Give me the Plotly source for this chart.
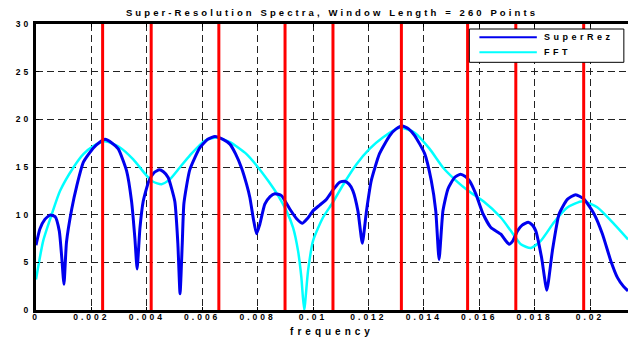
import plotly.graph_objects as go

title_text = "Super-Resolution Spectra, Window Length = 260 Points"
x_label = "frequency"
legend_names = ["SuperRez", "FFT"]

x_tick_vals = [0, 0.002, 0.004, 0.006, 0.008, 0.01, 0.012, 0.014, 0.016, 0.018, 0.02]
x_tick_text = ["0", "0.002", "0.004", "0.006", "0.008", "0.01", "0.012", "0.014", "0.016", "0.018", "0.02"]
y_tick_vals = [0, 5, 10, 15, 20, 25, 30]

# frequencies in units of 1e-3
superrez_f = [0.0, 0.14, 0.32, 0.5, 0.69, 0.84, 0.93, 1.01, 1.1, 1.29, 1.47, 1.71, 2.07, 2.3, 2.49,
              2.75, 2.97, 3.27, 3.45, 3.57, 3.65, 3.75, 3.87, 4.07, 4.26, 4.45, 4.6, 4.77, 5.01,
              5.12, 5.2, 5.28, 5.34, 5.55, 5.91, 6.2, 6.46, 6.75, 7.0, 7.2, 7.42, 7.6, 7.72, 7.85,
              7.96, 8.08, 8.26, 8.45, 8.62, 8.86, 9.16, 9.4, 9.62, 9.8, 10.0, 10.24, 10.48, 10.75,
              10.96, 11.14, 11.3, 11.44, 11.62, 11.78, 11.93, 12.1, 12.4, 12.77, 13.0, 13.22, 13.45,
              13.67, 14.03, 14.27, 14.43, 14.55, 14.69, 14.87, 15.11, 15.32, 15.5, 15.65, 15.88,
              16.12, 16.42, 16.78, 16.95, 17.08, 17.2, 17.38, 17.55, 17.77, 17.92, 18.04, 18.25,
              18.44, 18.64, 18.88, 19.18, 19.48, 19.79, 20.15, 20.45, 20.75, 20.99, 21.2, 21.37]
superrez_v = [6.8, 8.5, 9.5, 9.95, 9.8, 8.3, 5.5, 2.7, 7.1, 10.6, 13.0, 15.5, 17.0, 17.6, 17.9,
              17.5, 16.9, 14.6, 11.4, 7.5, 4.3, 8.5, 11.4, 13.5, 14.4, 14.7, 14.5, 13.9, 11.4,
              7.0, 1.7, 7.0, 11.2, 14.7, 17.0, 17.9, 18.2, 17.9, 17.4, 16.4, 14.9, 13.2, 11.8, 9.5,
              8.0, 9.0, 11.1, 11.9, 12.2, 12.0, 10.6, 9.6, 9.1, 9.6, 10.4, 11.0, 11.6, 12.7,
              13.4, 13.5, 13.2, 12.5, 10.4, 7.0, 10.4, 13.55, 16.4, 18.3, 19.0, 19.3, 19.0,
              18.3, 16.4, 13.55, 10.4, 5.3, 10.4, 12.7, 13.9, 14.25, 14.0, 13.55, 12.15,
              10.2, 8.65, 7.95, 7.3, 6.9, 7.2, 8.3, 8.9, 9.2, 8.9, 8.3, 5.5,
              2.07, 6.2, 10.05, 11.6, 12.1, 11.6, 10.05, 7.95, 5.15, 3.4, 2.5, 2.0]

fft_f = [0.0, 0.26, 0.57, 0.87, 1.35, 1.71, 2.07, 2.49, 3.03, 3.51, 3.99, 4.23, 4.53, 4.83, 5.19,
         5.55, 6.09, 6.52, 7.0, 7.6, 8.02, 8.38, 8.74, 9.04, 9.28, 9.46, 9.58, 9.68, 9.82, 10.0,
         10.36, 10.72, 11.14, 11.57, 12.04, 12.52, 13.13, 13.67, 14.21, 14.69, 15.17, 15.65,
         16.15, 16.78, 17.14, 17.5, 17.86, 18.22, 18.7, 19.18, 19.73, 20.27, 20.87, 21.37]
fft_v = [3.2, 7.25, 10.05, 12.5, 14.95, 16.35, 17.2, 17.7, 17.05, 15.8, 14.1, 13.45, 13.2, 13.7, 14.95,
         16.2, 17.75, 18.1, 17.6, 16.35, 14.95, 13.55, 12.0, 10.4, 8.65, 6.2, 3.4, 0.0, 4.1, 7.25,
         9.7, 11.3, 13.4, 15.3, 16.9, 18.1, 19.15, 18.6, 16.9, 14.95, 13.55, 12.4,
         11.4, 9.7, 8.3, 6.9, 6.5, 7.25, 9.2, 10.75, 11.4, 10.75, 9.0, 7.4]

true_freqs = [2.405, 4.158, 6.60, 8.99, 10.72, 13.19, 15.58, 17.32, 19.77]

x_max = 21.37
y_max = 30

scale = 1e-3
fig = go.Figure()
fig.add_trace(go.Scatter(x=[v * scale for v in fft_f], y=fft_v, mode="lines",
                         line=dict(color="#00ffff", width=2.5, shape="spline", smoothing=0.6),
                         name=legend_names[1], showlegend=False))
fig.add_trace(go.Scatter(x=[v * scale for v in superrez_f], y=superrez_v, mode="lines",
                         line=dict(color="#0000ee", width=3, shape="spline", smoothing=0.5),
                         name=legend_names[0], showlegend=False))
rx, ry = [], []
for f in true_freqs:
    rx += [f * scale, f * scale, None]
    ry += [0, y_max, None]
fig.add_trace(go.Scatter(x=rx, y=ry, mode="lines", line=dict(color="#ff0000", width=3),
                         showlegend=False, hoverinfo="skip"))

font_main = "Liberation Sans, Arial, sans-serif"

# manual legend (opaque box)
lx0, lx1, ly0, ly1 = 0.732, 0.993, 0.866, 0.9825
shapes = [dict(type="rect", xref="paper", yref="paper", x0=lx0, x1=lx1, y0=ly0, y1=ly1,
               fillcolor="white", line=dict(color="black", width=1), layer="above")]
entry_y = [0.9535, 0.901]
entry_col = ["#0000ee", "#00ffff"]
annotations = []
for name, yy, col in zip(legend_names, entry_y, entry_col):
    shapes.append(dict(type="line", xref="paper", yref="paper", x0=0.749, x1=0.846, y0=yy, y1=yy,
                       line=dict(color=col, width=2), layer="above"))
    annotations.append(dict(text="<b>%s</b>" % name, xref="paper", yref="paper", x=0.854, y=yy,
                            xanchor="left", yanchor="middle", showarrow=False,
                            font=dict(family=font_main, size=9, color="black")))

fig.update_layout(
    width=628, height=337,
    margin=dict(l=36, r=0, t=24, b=27),
    paper_bgcolor="white", plot_bgcolor="white",
    title=dict(text="<b>%s</b>" % title_text, x=0.5, xref="paper", xanchor="center",
               y=1 - 12.5 / 337, yanchor="middle", yref="container",
               font=dict(family=font_main, size=9.5, color="black")),
    shapes=shapes, annotations=annotations,
    showlegend=False,
)
fig.update_xaxes(range=[0, x_max * scale], tickvals=x_tick_vals,
                 ticktext=["<b>%s</b>" % t for t in x_tick_text],
                 showline=True, linewidth=3, linecolor="black", mirror="ticks",
                 ticks="inside", ticklen=3, tickwidth=1, tickcolor="black",
                 showgrid=True, gridcolor="#222222", gridwidth=1, griddash="7px,4px",
                 zeroline=False, tickfont=dict(family=font_main, size=8.5, color="black"),
                 ticklabelstandoff=-6,
                 title=dict(text="<b>%s</b>" % x_label, standoff=10,
                            font=dict(family=font_main, size=10, color="black")))
fig.update_yaxes(range=[0, y_max], tickvals=y_tick_vals,
                 ticktext=["<b>%d</b>" % v for v in y_tick_vals],
                 showline=True, linewidth=3, linecolor="black", mirror=False,
                 ticks="inside", ticklen=3, tickwidth=1, tickcolor="black",
                 showgrid=True, gridcolor="#222222", gridwidth=1, griddash="7px,4px",
                 zeroline=False, tickfont=dict(family=font_main, size=8.5, color="black"))

post = """
var gd = document.getElementById('{plot_id}');
var st = document.createElement('style');
st.textContent = '.xaxislayer-above text, .yaxislayer-above text, .xtick text, .ytick text {letter-spacing: 3px !important;}' +
                 ' .gtitle {letter-spacing: 3.1px !important;}' +
                 ' .g-xtitle text, .xtitle {letter-spacing: 4px !important;}';
document.head.appendChild(st);
function sp(){
  gd.querySelectorAll('.annotation-text').forEach(function(e){
    if (e.getAttribute('text-anchor') !== 'start') {
      var b = e.getBBox();
      e.setAttribute('text-anchor', 'start');
      e.setAttribute('x', b.x);
    }
    e.style.letterSpacing='3.5px';
  });
  gd.querySelectorAll('.xtick text').forEach(function(e){ e.setAttribute('dy', '3'); });
}
sp();
gd.on('plotly_afterplot', sp);
"""
fig.write_html("out.html", post_script=post, config={"displayModeBar": False})
